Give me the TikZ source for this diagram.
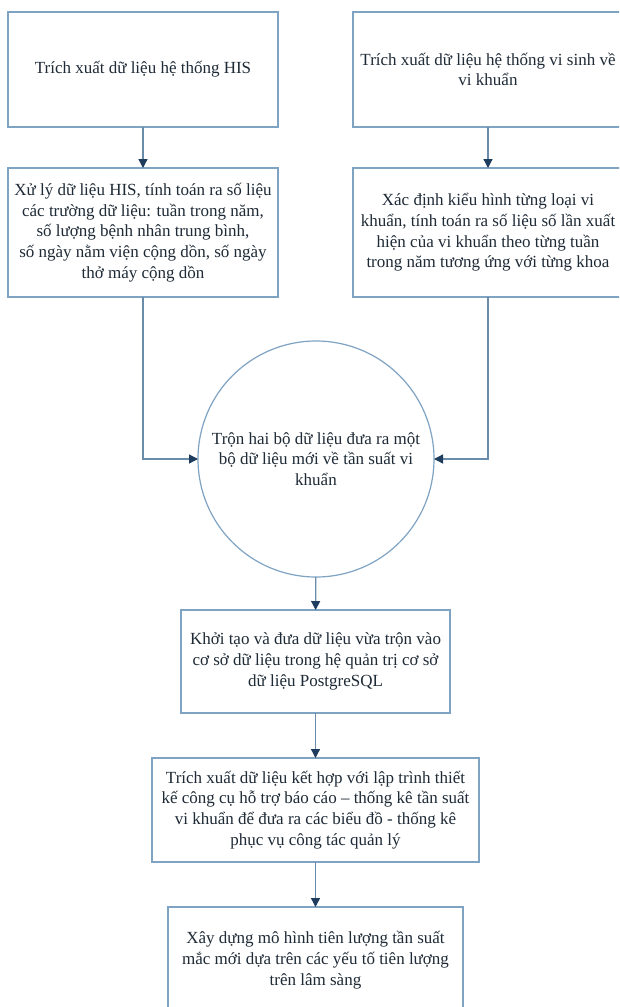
\documentclass[tikz,border=0pt]{standalone}
\usepackage{fontspec}
\setmainfont{Liberation Serif}
\usetikzlibrary{arrows.meta}
\definecolor{boxline}{HTML}{7FA3C3}
\definecolor{arrline}{HTML}{6A8CAB}
\definecolor{arrhead}{HTML}{1E3D5E}
\definecolor{txt}{HTML}{1E2A36}
\tikzset{
  stepbox/.style={draw=boxline, line width=1.4pt, rectangle, inner sep=0pt, outer sep=0pt,
    align=center, text=txt, font=\fontsize{17}{20.7}\selectfont},
  roundbox/.style={draw=boxline, line width=1.2pt, circle, inner sep=0pt, outer sep=0pt,
    minimum size=236pt, align=center, text=txt, font=\fontsize{17}{20.7}\selectfont},
  flow/.style={draw=arrline, line width=1.3pt,
    -{Triangle[length=9pt,width=9pt,color=arrhead]}}
}
\begin{document}
\begin{tikzpicture}[x=1pt,y=-1pt]
\useasboundingbox (0,0) rectangle (619,1007);
\clip (0,0) rectangle (619,1007);
\fill[white] (0,0) rectangle (619,1007);

\node[stepbox, minimum width=270pt, minimum height=115pt] (his) at (143,69.5)
  {Trích xuất dữ liệu hệ thống HIS};
\node[stepbox, minimum width=270pt, minimum height=115pt] (vs) at (488,69.5)
  {Trích xuất dữ liệu hệ thống vi sinh về\\vi khuẩn};
\node[stepbox, minimum width=270pt, minimum height=129pt] (hisproc) at (143,232.5)
  {Xử lý dữ liệu HIS, tính toán ra số liệu\\các trường dữ liệu: tuần trong năm,\\số lượng bệnh nhân trung bình,\\số ngày nằm viện cộng dồn, số ngày\\thở máy cộng dồn};
\node[stepbox, minimum width=270pt, minimum height=129pt] (vsproc) at (488,232.5)
  {Xác định kiểu hình từng loại vi\\khuẩn, tính toán ra số liệu số lần xuất\\hiện của vi khuẩn theo từng tuần\\trong năm tương ứng với từng khoa};
\node[roundbox] (merge) at (316,459)
  {Trộn hai bộ dữ liệu đưa ra một\\bộ dữ liệu mới về tần suất vi\\khuẩn};
\node[stepbox, minimum width=269pt, minimum height=103pt] (db) at (315.5,661.5)
  {Khởi tạo và đưa dữ liệu vừa trộn vào\\cơ sở dữ liệu trong hệ quản trị cơ sở\\dữ liệu PostgreSQL};
\node[stepbox, minimum width=327pt, minimum height=104pt] (report) at (315.5,810)
  {Trích xuất dữ liệu kết hợp với lập trình thiết\\kế công cụ hỗ trợ báo cáo – thống kê tần suất\\vi khuẩn để đưa ra các biểu đồ - thống kê\\phục vụ công tác quản lý};
\node[stepbox, minimum width=295pt, minimum height=106pt] (model) at (315.5,960)
  {Xây dựng mô hình tiên lượng tần suất\\mắc mới dựa trên các yếu tố tiên lượng\\trên lâm sàng};

\draw[flow] (his) -- (hisproc);
\draw[flow] (vs) -- (vsproc);
\draw[flow] (hisproc.south) |- (merge.west);
\draw[flow] (vsproc.south) |- (merge.east);
\draw[flow] (merge) -- (db);
\draw[flow] (db) -- (report);
\draw[flow] (report) -- (model);
\end{tikzpicture}
\end{document}
